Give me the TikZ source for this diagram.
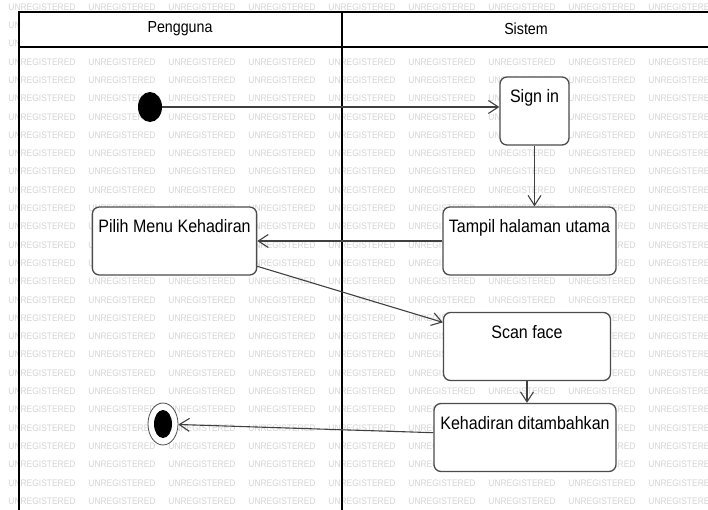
\documentclass[tikz,border=0pt]{standalone}
\usepackage{fontspec}
\setmainfont{Liberation Sans}[FakeStretch=0.89]
\usetikzlibrary{arrows.meta,shapes.geometric}

\tikzset{
  lane/.style={black, line width=2pt},
  lanetitle/.style={font=\fontsize{16}{18}\selectfont, inner sep=0pt},
  act/.style={draw=black!70, line width=1.3pt, rounded corners=7pt, fill=white,
    inner sep=6pt, text height=20pt, text depth=36pt, minimum height=68pt,
    font=\fontsize{18}{20}\selectfont},
  flow/.style={draw=black!75, line width=1.1pt,
    -{Straight Barb[length=10pt,width=13pt,line width=1.1pt]}},
  startstate/.style={ellipse, fill=black, minimum width=24pt, minimum height=30pt, inner sep=0pt},
  endstate/.style={ellipse, draw=black!70, line width=0.8pt, fill=white,
    minimum width=30pt, minimum height=42pt, inner sep=0pt,
    path picture={\fill[black] (path picture bounding box.center) ellipse [x radius=9pt, y radius=14pt];}},
  watermark/.style={text=black!17, font=\fontsize{9.5}{10}\selectfont, inner sep=0pt}
}

\begin{document}
\begin{tikzpicture}[x=1pt, y=-1pt]
  \useasboundingbox (0,0) rectangle (708,510);
  % background text (left out where a box or the header hides it completely)
  \begin{scope}
    \clip (0,0) rectangle (708,510);
    \foreach \r in {0,...,27}
      \foreach \c in {0,...,8} {
        \pgfmathsetmacro\wx{42+80*\c}
        \pgfmathsetmacro\wy{7+18.3*\r}
        \pgfmathtruncatemacro\hid{(\wx-35>19 && \wy-4>12 && \wy+4<47)
          || (\wx-35>93 && \wx+35<256 && \wy-4>207 && \wy+4<275)
          || (\wx-35>443 && \wx+35<616 && \wy-4>207 && \wy+4<275)
          || (\wx-35>443 && \wx+35<611 && \wy-4>313 && \wy+4<380)
          || (\wx-35>434 && \wx+35<616 && \wy-4>403 && \wy+4<472)}
        \ifnum\hid=0
          \node[watermark] (wm-\r-\c) at (\wx,\wy) {UNREGISTERED};
        \fi
      }
  \end{scope}
  % swimlanes
  \fill[white] (19,12) rectangle (708,47);
  \draw[lane] (19,510) -- (19,12) -- (708,12);
  \draw[lane] (19,47) -- (708,47);
  \draw[lane] (342,12) -- (342,510);
  \node[lanetitle] (pengguna) at (180,29) {Pengguna};
  \node[lanetitle] (sistem) at (526,29) {Sistem};
  % states
  \node[startstate] (init) at (150,107) {};
  \node[act, minimum width=69pt] (signin) at (534.5,111) {Sign in};
  \node[act, minimum width=173pt] (tampil) at (529.5,241) {Tampil halaman utama};
  \node[act, minimum width=163pt] (pilih) at (174.5,241) {Pilih Menu Kehadiran};
  \node[act, minimum width=167pt] (scan) at (527,346.5) {Scan face};
  \node[act, minimum width=182pt] (tambah) at (525,437.5) {Kehadiran ditambahkan};
  \node[endstate] (final) at (163,424) {};
  % transitions
  \draw[flow] (init) -- (init -| signin.west);
  \draw[flow] (signin.south) -- (signin.south |- tampil.north);
  \draw[flow] (tampil.west) -- (pilih.east);
  \draw[flow] (pilih.-17) -- (scan.164);
  \draw[flow] (scan.south) -- (scan.south |- tambah.north);
  \draw[flow] (tambah.177) -- (final);
\end{tikzpicture}
\end{document}
